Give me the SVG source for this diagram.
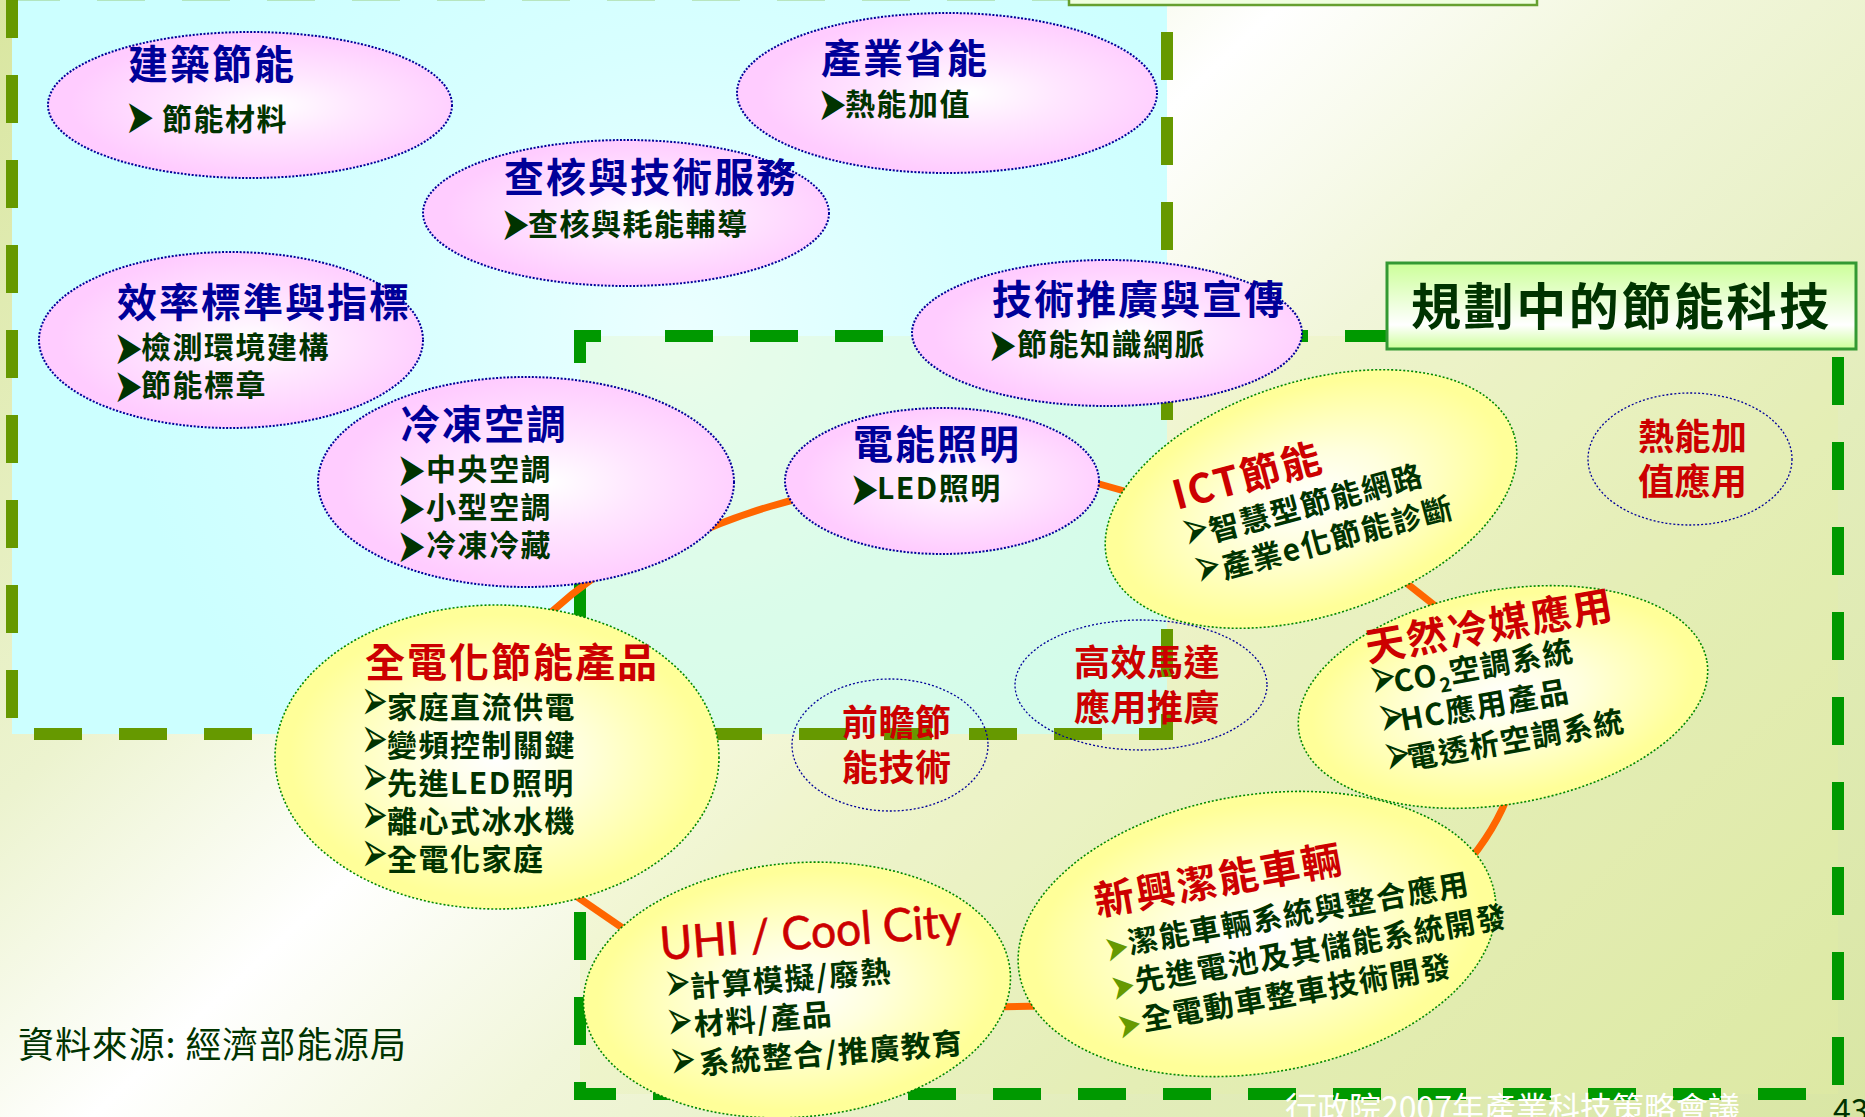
<svg xmlns="http://www.w3.org/2000/svg" width="1865" height="1117" viewBox="0 0 1865 1117">
<defs>
<linearGradient id="bg" gradientUnits="userSpaceOnUse" x1="0" y1="0" x2="1428" y2="1528">
<stop offset="0" stop-color="#d9e6a0"/>
<stop offset="0.28" stop-color="#ecf3cf"/>
<stop offset="0.42" stop-color="#ffffff"/>
<stop offset="0.55" stop-color="#f1f6da"/>
<stop offset="0.75" stop-color="#e3edbb"/>
<stop offset="1" stop-color="#d9e6a4"/>
</linearGradient>
<radialGradient id="cy" gradientUnits="userSpaceOnUse" cx="680" cy="330" r="560">
<stop offset="0" stop-color="#ebffff"/>
<stop offset="0.5" stop-color="#d8ffff"/>
<stop offset="1" stop-color="#ccffff"/>
</radialGradient>
<radialGradient id="pk" cx="0.55" cy="0.5" r="0.55">
<stop offset="0" stop-color="#ffffff"/>
<stop offset="0.4" stop-color="#ffe6ff"/>
<stop offset="0.9" stop-color="#ffccff"/>
</radialGradient>
<radialGradient id="ye" cx="0.5" cy="0.5" r="0.55">
<stop offset="0" stop-color="#ffffff"/>
<stop offset="0.35" stop-color="#ffffdd"/>
<stop offset="0.85" stop-color="#ffff99"/>
</radialGradient>
<linearGradient id="tg" x1="0" y1="0" x2="0" y2="1">
<stop offset="0" stop-color="#ccff99"/>
<stop offset="0.72" stop-color="#ffffff"/>
<stop offset="1" stop-color="#ccff99"/>
</linearGradient>
<style>
.pk{fill:url(#pk);stroke:#000099;stroke-width:2;stroke-dasharray:2 1.6}
.ye{fill:url(#ye);stroke:#008800;stroke-width:1.6;stroke-dasharray:2 2}
.ol{fill:none;stroke:#000099;stroke-width:1.3;stroke-dasharray:2 2}
.f{font-family:"Noto Sans CJK TC","Noto Sans CJK SC","Noto Sans CJK JP",sans-serif;font-weight:700}
.t40{font-size:40px;letter-spacing:2px}
.t36{font-size:36px;letter-spacing:0.5px}
.it{font-size:30px;letter-spacing:1.5px}
.navy{fill:#000099}
.red{fill:#cc0000}
.dg{fill:#003300}
.a{font-family:"DejaVu Sans",sans-serif;font-size:35px;fill:#003300}
.ao{font-family:"DejaVu Sans",sans-serif;font-size:29px;fill:#669900}
.ay{font-family:"DejaVu Sans",sans-serif;font-size:32px;fill:#003300}
.dA{fill:none;stroke:#669900;stroke-width:12;stroke-dasharray:48 37}
.dB{fill:none;stroke:#009900;stroke-width:12;stroke-dasharray:48 37}
</style>
</defs>
<rect x="0" y="0" width="1865" height="1117" fill="url(#bg)"/>
<rect id="boxA" x="12" y="0" width="1155" height="734" fill="url(#cy)"/>
<rect id="boxB" x="580" y="336" width="1258" height="758" fill="#e6f0a0" fill-opacity="0.22"/>
<rect id="topbox" x="1069" y="-40" width="468" height="45" fill="#f0ffe0" stroke="#66a030" stroke-width="2.5"/>
<g id="borders">
<path class="dA" d="M12,-10 V720"/>
<path class="dA" d="M34,734 H1105"/>
<path class="dA" d="M1139,734 H1167 V627" stroke-dasharray="none"/>
<path class="dA" d="M1167,32 V592"/>
<path class="dA" d="M12,-5.6 H1069" stroke-dasharray="27 58" stroke-opacity="0.5"/>
<path class="dB" d="M580,363 V336 H629" stroke-dasharray="none"/>
<path class="dB" d="M665,336 H1395"/>
<path class="dB" d="M580,402 V1047"/>
<path class="dB" d="M580,1082 V1094 H616" stroke-dasharray="none"/>
<path class="dB" d="M653,1094 H1808"/>
<path class="dB" d="M1838,357 V1087"/>
</g>
<g id="connectors" fill="none" stroke="#ff6600" stroke-width="7">
<path d="M680,541 Q745,510 815,495"/>
<path d="M612,566 Q570,592 535,628"/>
<path d="M1085,480 L1135,494"/>
<path d="M1400,578 L1448,616"/>
<path d="M1510,790 Q1496,830 1463,868"/>
<path d="M990,1007 L1045,1006"/>
<path d="M560,885 L640,940"/>
</g>
<g id="n-jianzhu">
<ellipse class="pk" cx="250" cy="105" rx="202" ry="73"/>
<text class="f t40 navy" x="128" y="79">建築節能</text>
<text class="a" font-size="41" fill="#669900" transform="translate(125,132.5) scale(1,1.35)">➤</text>
<text class="f it dg" x="162" y="130">節能材料</text>
</g>
<g id="n-chanye">
<ellipse class="pk" cx="947" cy="93" rx="210" ry="80"/>
<text class="f t40 navy" x="821" y="73">產業省能</text>
<text class="a" transform="translate(817.5,119.5) scale(1,1.35)">➤</text>
<text class="f it dg" x="845" y="115">熱能加值</text>
</g>
<g id="n-chahe">
<ellipse class="pk" cx="626" cy="213" rx="203" ry="73"/>
<text class="f t40 navy" x="504" y="192">查核與技術服務</text>
<text class="a" transform="translate(500.5,240) scale(1,1.35)">➤</text>
<text class="f it dg" x="528" y="235">查核與耗能輔導</text>
</g>
<g id="n-xiaolv">
<ellipse class="pk" cx="231" cy="340" rx="192" ry="88"/>
<text class="f t40 navy" x="117" y="317">效率標準與指標</text>
<text class="a" transform="translate(113.5,364) scale(1,1.35)">➤</text>
<text class="f it dg" x="141" y="358">檢測環境建構</text>
<text class="a" transform="translate(113.5,402) scale(1,1.35)">➤</text>
<text class="f it dg" x="141" y="396">節能標章</text>
</g>
<g id="n-lengdong">
<ellipse class="pk" cx="526" cy="482" rx="208" ry="105"/>
<text class="f t40 navy" x="400" y="439">冷凍空調</text>
<text class="a" transform="translate(396.5,486) scale(1,1.35)">➤</text>
<text class="f it dg" x="426" y="480">中央空調</text>
<text class="a" transform="translate(396.5,524) scale(1,1.35)">➤</text>
<text class="f it dg" x="426" y="518">小型空調</text>
<text class="a" transform="translate(396.5,562) scale(1,1.35)">➤</text>
<text class="f it dg" x="426" y="556">冷凍冷藏</text>
</g>
<g id="n-dianneng">
<ellipse class="pk" cx="942" cy="481" rx="157" ry="73"/>
<text class="f t40 navy" x="853" y="459">電能照明</text>
<text class="a" transform="translate(849.5,505) scale(1,1.35)">➤</text>
<text class="f it dg" x="877" y="499">LED照明</text>
</g>
<g id="n-jishu">
<ellipse class="pk" cx="1107" cy="333" rx="195" ry="73"/>
<text class="f t40 navy" x="992" y="314">技術推廣與宣傳</text>
<text class="a" transform="translate(987.5,361) scale(1,1.35)">➤</text>
<text class="f it dg" x="1017" y="355">節能知識網脈</text>
</g>
<g id="n-quandian">
<ellipse class="ye" cx="497" cy="757" rx="222" ry="152"/>
<text class="f t40 red" x="365" y="677" letter-spacing="1.6">全電化節能產品</text>
<text class="ay" transform="translate(361,720.3) scale(1,1.85)">➢</text>
<text class="f it dg" x="387" y="718">家庭直流供電</text>
<text class="ay" transform="translate(361,758.3) scale(1,1.85)">➢</text>
<text class="f it dg" x="387" y="756">變頻控制關鍵</text>
<text class="ay" transform="translate(361,796.3) scale(1,1.85)">➢</text>
<text class="f it dg" x="387" y="794">先進LED照明</text>
<text class="ay" transform="translate(361,834.3) scale(1,1.85)">➢</text>
<text class="f it dg" x="387" y="832">離心式冰水機</text>
<text class="ay" transform="translate(361,872.3) scale(1,1.85)">➢</text>
<text class="f it dg" x="387" y="870">全電化家庭</text>
</g>
<g id="n-ict">
<ellipse class="ye" cx="1311" cy="499" rx="213" ry="117" transform="rotate(-18 1311 499)"/>
<g transform="rotate(-15 1177 510)">
<text class="f t40 red" x="1177" y="510">ICT節能</text>
<text class="ay" transform="translate(1176,552.3) scale(1,1.8)">➢</text>
<text class="f it dg" x="1203" y="550">智慧型節能網路</text>
<text class="ay" transform="translate(1178,591.3) scale(1,1.8)">➢</text>
<text class="f it dg" x="1205" y="589">產業e化節能診斷</text>
</g>
</g>
<g id="n-tianran">
<ellipse class="ye" cx="1503" cy="697" rx="207" ry="107" transform="rotate(-10 1503 697)"/>
<g transform="rotate(-10 1368 662)">
<text class="f t40 red" x="1368" y="662">天然冷媒應用</text>
<text class="ay" transform="translate(1366,699.3) scale(1,1.85)">➢</text>
<text class="f it dg" x="1390" y="697">CO<tspan dy="8" font-size="20" letter-spacing="0">2</tspan><tspan dy="-8">空調系統</tspan></text>
<text class="ay" transform="translate(1368,738.3) scale(1,1.85)">➢</text>
<text class="f it dg" x="1390" y="736">HC應用產品</text>
<text class="ay" transform="translate(1367,777.3) scale(1,1.85)">➢</text>
<text class="f it dg" x="1390" y="775">電透析空調系統</text>
</g>
</g>
<g id="n-xinxing">
<ellipse class="ye" cx="1257" cy="934" rx="241" ry="139" transform="rotate(-9.3 1257 934)"/>
<g transform="rotate(-10 1097 916)">
<text class="f t40 red" x="1097" y="916" letter-spacing="2.7">新興潔能車輛</text>
<text class="ao" transform="translate(1098.5,963) scale(1,1.25)">➤</text>
<text class="f it dg" x="1123" y="959">潔能車輛系統與整合應用</text>
<text class="ao" transform="translate(1098,1002) scale(1,1.25)">➤</text>
<text class="f it dg" x="1123" y="998">先進電池及其儲能系統開發</text>
<text class="ao" transform="translate(1097.5,1041) scale(1,1.25)">➤</text>
<text class="f it dg" x="1123" y="1037">全電動車整車技術開發</text>
</g>
</g>
<g id="n-uhi">
<ellipse class="ye" cx="797" cy="990" rx="214" ry="127" transform="rotate(-5 797 990)"/>
<g transform="rotate(-4.5 661 960)">
<text x="661" y="960" font-family="Lato, 'Open Sans', sans-serif" font-size="46" fill="#cc0000" stroke="#cc0000" stroke-width="0.6" textLength="303" lengthAdjust="spacingAndGlyphs">UHI / Cool City</text>
<text class="ay" transform="translate(662,1002.3) scale(1,1.8)">➢</text>
<text class="f it dg" x="688" y="1000">計算模擬/廢熱</text>
<text class="ay" transform="translate(661,1040.8) scale(1,1.8)">➢</text>
<text class="f it dg" x="689" y="1038">材料/產品</text>
<text class="ay" transform="translate(661,1079.8) scale(1,1.8)">➢</text>
<text class="f it dg" x="691" y="1077">系統整合/推廣教育</text>
</g>
</g>
<g id="n-rere">
<ellipse class="ol" cx="1690" cy="459" rx="102" ry="66"/>
<text class="f t36 red" x="1638" y="450">熱能加</text>
<text class="f t36 red" x="1638" y="495">值應用</text>
</g>
<g id="n-gaoxiao">
<ellipse class="ol" cx="1141" cy="685" rx="126" ry="65"/>
<text class="f t36 red" x="1074" y="676">高效馬達</text>
<text class="f t36 red" x="1074" y="721">應用推廣</text>
</g>
<g id="n-qianzhan">
<ellipse class="ol" cx="890" cy="745" rx="98" ry="66"/>
<text class="f t36 red" x="842" y="736">前瞻節</text>
<text class="f t36 red" x="842" y="781">能技術</text>
</g>
<g id="n-title">
<rect x="1387" y="263" width="469" height="86" fill="url(#tg)" stroke="#339933" stroke-width="3"/>
<text class="f dg" x="1411" y="325" font-size="50" letter-spacing="2.6">規劃中的節能科技</text>
</g>
<text id="source" x="18" y="1058" font-family="'Noto Sans CJK TC','Noto Sans CJK SC',sans-serif" font-size="36" letter-spacing="0.9" fill="#003300">資料來源: 經濟部能源局</text>
<text id="footer" x="1285" y="1120" font-family="'Noto Sans CJK TC','Noto Sans CJK SC',sans-serif" font-size="32" fill="#ffffff">行政院2007年產業科技策略會議</text>
<text id="page" x="1833" y="1122" font-family="'Noto Sans CJK TC','Noto Sans CJK SC',sans-serif" font-size="32" fill="#003300">43</text>
</svg>
